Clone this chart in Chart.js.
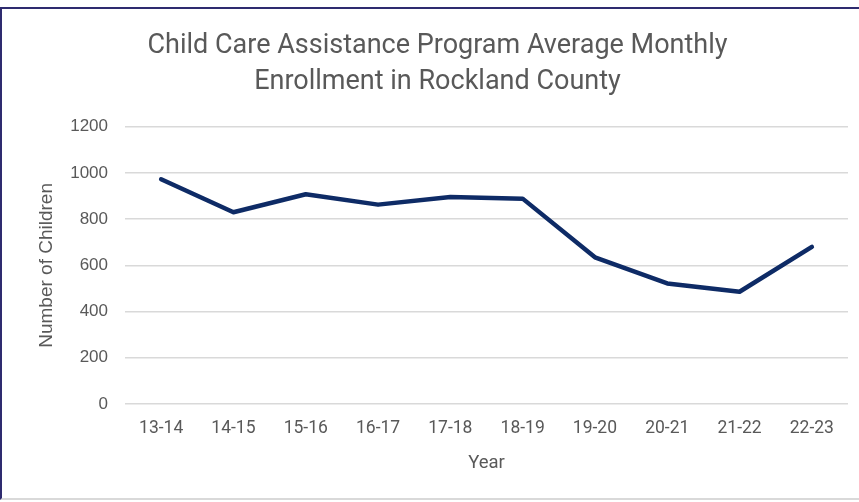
<!DOCTYPE html>
<html><head><meta charset="utf-8">
<script src="https://cdn.jsdelivr.net/npm/chart.js@4/dist/chart.umd.min.js"></script>
<style>
html,body{margin:0;padding:0;background:#fff;width:859px;height:502px;overflow:hidden;}
#frame{position:absolute;left:0;top:7px;width:859px;height:493px;border-top:2px solid #2e2b6f;border-left:2px solid #2e2b6f;border-bottom:2px solid #d9d9d9;box-sizing:border-box;}
#wrap{position:absolute;left:0;top:0;width:848px;height:502px;}
</style></head>
<body>
<div id="frame"></div>
<div id="wrap"><canvas id="c" width="848" height="502"></canvas></div>
<script>
const titleLines = ['Child Care Assistance Program Average Monthly', 'Enrollment in Rockland County'];
const categories = ['13-14','14-15','15-16','16-17','17-18','18-19','19-20','20-21','21-22','22-23'];
const enrollment = [973, 830, 908, 863, 896, 889, 635, 522, 486, 680];
const yTicks = [0, 200, 400, 600, 800, 1000, 1200];
const xTitle = 'Year';
const yTitle = 'Number of Children';

const titleFont = "Roboto, 'Liberation Sans', sans-serif";
const arial = "'Liberation Sans', Arial, sans-serif";
const grey = '#595959';

new Chart(document.getElementById('c'), {
  type: 'line',
  data: {
    labels: categories,
    datasets: [{
      data: enrollment,
      borderColor: '#0e2b66',
      borderWidth: 4.5,
      pointRadius: 0,
      tension: 0,
      fill: false,
      borderCapStyle: 'round',
      borderJoinStyle: 'round'
    }]
  },
  options: {
    responsive: false,
    animation: false,
    devicePixelRatio: 1,
    layout: { padding: { left: 27, right: 0, top: 0, bottom: 0 } },
    plugins: {
      legend: { display: false },
      tooltip: { enabled: false },
      title: {
        display: true,
        text: titleLines,
        color: grey,
        font: { family: titleFont, size: 27, weight: 'normal', lineHeight: 1.32 },
        padding: { top: 28.5, bottom: 27 }
      }
    },
    scales: {
      x: {
        offset: true,
        grid: { display: false, drawTicks: false },
        border: { display: false },
        ticks: { color: grey, font: { family: titleFont, size: 17.5, lineHeight: 1.2 }, padding: 14, maxRotation: 0, autoSkip: false },
        title: { display: true, text: xTitle, color: grey, font: { family: titleFont, size: 18.5, lineHeight: 1.2 }, padding: { top: 0, bottom: 28 } },
        afterFit(s) { s.height = 98; }
      },
      y: {
        min: 0, max: 1200,
        afterBuildTicks(s) { s.ticks = yTicks.map(v => ({ value: v })); },
        grid: { color: '#d9d9d9', lineWidth: 1.5, drawTicks: false },
        border: { display: false },
        ticks: { color: grey, font: { family: arial, size: 17 }, padding: 17, callback: v => String(v) },
        title: { display: true, text: yTitle, color: grey, font: { family: arial, size: 19, lineHeight: 1.2 }, padding: { top: 8, bottom: 0 } },
        afterFit(s) { s.width = 98; }
      }
    }
  }
});
</script>
</body></html>
